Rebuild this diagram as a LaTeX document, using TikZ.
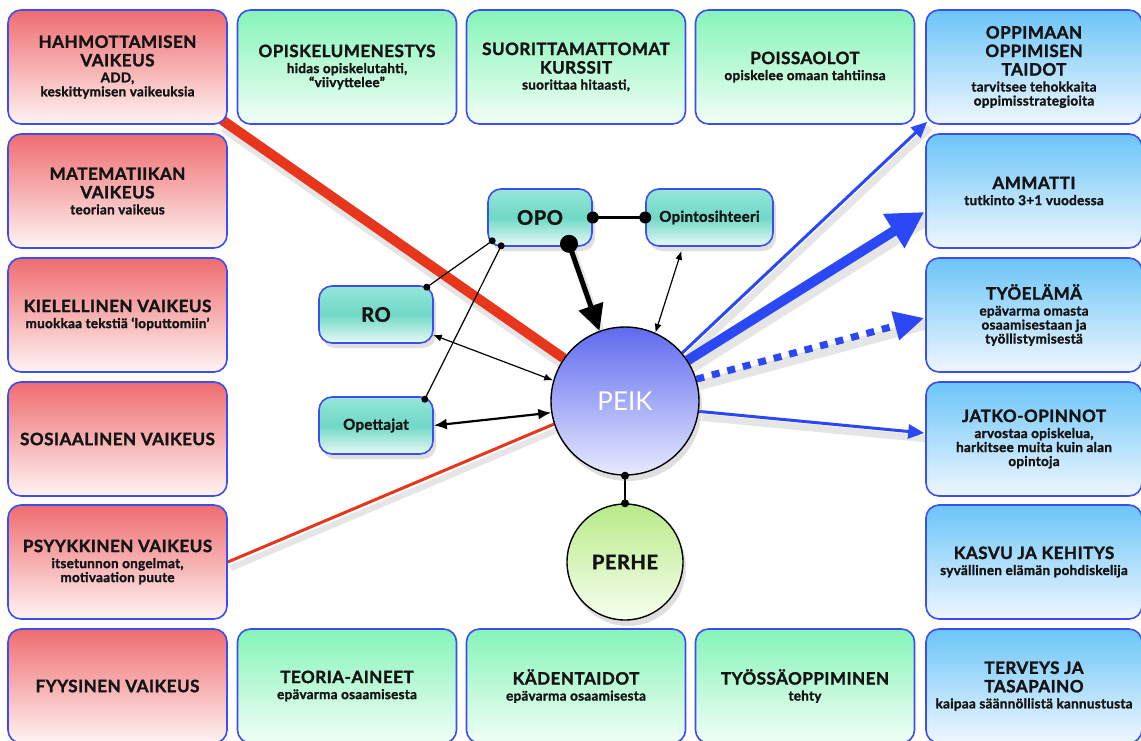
\documentclass[tikz,border=0pt]{standalone}
\usepackage{fontspec}
\setmainfont{Lato}[BoldFeatures={FakeBold=1.6}]
\usetikzlibrary{arrows.meta,shadows,calc}

\definecolor{edge}{HTML}{3D4DF2}
\definecolor{ink}{HTML}{141414}
\definecolor{redtop}{HTML}{EF6C6E}
\definecolor{redbot}{HTML}{FFF4F4}
\definecolor{grntop}{HTML}{86F4B8}
\definecolor{grnbot}{HTML}{F1FFF6}
\definecolor{blutop}{HTML}{6BC5F8}
\definecolor{blubot}{HTML}{EFF7FF}
\definecolor{tealtop}{HTML}{96E6D8}
\definecolor{tealmid}{HTML}{70D8C6}
\definecolor{tealbot}{HTML}{E6FAF6}
\definecolor{peiktop}{HTML}{5E6AEE}
\definecolor{peikbot}{HTML}{E8EAFF}
\definecolor{perhetop}{HTML}{B8EA88}
\definecolor{perhebot}{HTML}{F7FFEF}
\definecolor{linkred}{HTML}{E8361C}
\definecolor{linkblue}{HTML}{2A48F5}

% title lines and small lines inside the boxes
\newcommand\ttl{\fontsize{17}{19}\selectfont\addfontfeatures{LetterSpace=3}}
\newcommand\cellfont{\bfseries\fontsize{13.5}{14}\selectfont\addfontfeatures{LetterSpace=2}}

\pgfdeclarelayer{shade}
\pgfdeclarelayer{links}
\pgfsetlayers{shade,links,main}

\begin{document}
\begin{tikzpicture}[x=1pt,y=-1pt,
  cell/.style={rounded corners=13pt, draw=edge, line width=1.6pt,
    minimum width=219pt, minimum height=114pt, inner sep=0pt,
    align=center, text=ink, font=\cellfont},
  redcell/.style={cell, top color=redtop, bottom color=redbot},
  grncell/.style={cell, top color=grntop, bottom color=grnbot},
  blucell/.style={cell, minimum width=216pt, top color=blutop, bottom color=blubot},
  hub/.style={rounded corners=13pt, draw=edge, line width=1.6pt, inner sep=0pt,
    minimum height=57pt, text=ink, font=\bfseries,
    top color=tealtop, bottom color=tealbot, middle color=tealmid,
    drop shadow={opacity=0.25, shadow xshift=3pt, shadow yshift=-5pt}},
  ball/.style={circle, draw=black, line width=1.4pt, inner sep=0pt,
    drop shadow={opacity=0.25, shadow xshift=3pt, shadow yshift=-6pt}},
  lshade/.style={draw=black, opacity=0.10, transform canvas={shift={(3pt,-6pt)}}},
  thin arrows/.style={line width=1.2pt, {Latex[length=9pt,width=7pt]}-{Latex[length=9pt,width=7pt]}},
  blue tip/.style={-{Triangle[length=16pt,width=14pt]}}
]
\useasboundingbox (0,0) rectangle (1141,740);

% ---- outer frame of boxes ----
\node[redcell] (hah) at (117.5,67) {{\ttl HAHMOTTAMISEN}\\[4.5pt]{\ttl VAIKEUS}\\[2pt]ADD,\\keskittymisen vaikeuksia};
\node[redcell] (mat) at (117.5,191) {{\ttl MATEMATIIKAN}\\[4.5pt]{\ttl VAIKEUS}\\[2pt]teorian vaikeus};
\node[redcell] (kie) at (117.5,315) {{\ttl KIELELLINEN VAIKEUS}\\[2pt]muokkaa tekstiä ‘loputtomiin’};
\node[redcell] (sos) at (117.5,439) {{\ttl SOSIAALINEN VAIKEUS}};
\node[redcell] (psy) at (117.5,562) {{\ttl PSYYKKINEN VAIKEUS}\\[2pt]itsetunnon ongelmat,\\motivaation puute};
\node[redcell] (fyy) at (117.5,686) {{\ttl FYYSINEN VAIKEUS}};

\node[grncell] (ope) at (347,67) {{\ttl OPISKELUMENESTYS}\\[2pt]hidas opiskelutahti,\\“viivyttelee”};
\node[grncell] (suo) at (576,67) {{\ttl SUORITTAMATTOMAT}\\[4.5pt]{\ttl KURSSIT}\\[2pt]suorittaa hitaasti,};
\node[grncell] (poi) at (805,67) {{\ttl POISSAOLOT}\\[2pt]opiskelee omaan tahtiinsa};

\node[grncell] (teo) at (347,686) {{\ttl TEORIA-AINEET}\\[2pt]epävarma osaamisesta};
\node[grncell] (kad) at (576,686) {{\ttl KÄDENTAIDOT}\\[2pt]epävarma osaamisesta};
\node[grncell] (tyk) at (805,686) {{\ttl TYÖSSÄOPPIMINEN}\\[2pt]tehty};

\node[blucell] (opp) at (1034,67) {{\ttl OPPIMAAN}\\[4.5pt]{\ttl OPPIMISEN}\\[4.5pt]{\ttl TAIDOT}\\[2pt]tarvitsee tehokkaita\\oppimisstrategioita};
\node[blucell] (amm) at (1034,191) {{\ttl AMMATTI}\\[2pt]tutkinto 3+1 vuodessa};
\node[blucell] (tyo) at (1034,315) {{\ttl TYÖELÄMÄ}\\[2pt]epävarma omasta\\osaamisestaan ja\\työllistymisestä};
\node[blucell] (jat) at (1034,439) {{\ttl JATKO-OPINNOT}\\[2pt]arvostaa opiskelua,\\harkitsee muita kuin alan\\opintoja};
\node[blucell] (kas) at (1034,562) {{\ttl KASVU JA KEHITYS}\\[2pt]syvällinen elämän pohdiskelija};
\node[blucell] (ter) at (1034,686) {{\ttl TERVEYS JA}\\[4.5pt]{\ttl TASAPAINO}\\[2pt]kaipaa säännöllistä kannustusta};

% ---- centre ----
\node[hub, minimum width=104pt, font=\bfseries\fontsize{20}{22}\selectfont\addfontfeatures{LetterSpace=3}] (opo) at (540,217.5) {OPO};
\node[hub, minimum width=127pt, font=\bfseries\fontsize{15}{16}\selectfont\addfontfeatures{LetterSpace=2}] (sih) at (709.5,217.5) {Opintosihteeri};
\node[hub, minimum width=114pt, font=\bfseries\fontsize{20}{22}\selectfont\addfontfeatures{LetterSpace=3}] (ro) at (376,314.5) {RO};
\node[hub, minimum width=114pt, font=\bfseries\fontsize{15}{16}\selectfont\addfontfeatures{LetterSpace=2}] (opet) at (376,425.5) {Opettajat};

\node[ball, minimum size=148pt, top color=peiktop, bottom color=peikbot,
  text=white, font=\fontsize{26}{28}\selectfont] (peik) at (625,401) {PEIK};
\node[ball, minimum size=116pt, top color=perhetop, bottom color=perhebot,
  text=ink, font=\bfseries\fontsize{20}{22}\selectfont\addfontfeatures{LetterSpace=3}] (perhe) at (625,562) {PERHE};

% ---- connector end points ----
\coordinate (hahC) at ($(hah.south east)+(-6,-5)$);
\coordinate (oppT) at ($(opp.south west)+(2,-3)$);
\coordinate (ammT) at ($(amm.west)+(-1,21)$);
\coordinate (tyoT) at ($(tyo.west)+(-1,3)$);
\coordinate (jatT) at ($(jat.west)+(-1,-6)$);
\coordinate (opoS) at ($(opo.south)+(29,-3)$);
\coordinate (sihS) at ($(sih.south)+(-28,4)$);
\coordinate (roE)  at ($(ro.south east)+(-1,-9)$);
\coordinate (opoA) at ($(opo.south west)+(5,-6)$);
\coordinate (roN)  at ($(ro.north east)+(-7,2)$);
\coordinate (opoB) at ($(opo.south west)+(14,-1)$);
\coordinate (opetN) at ($(opet.north east)+(-9,3)$);

% ---- soft shadows under the heavy links ----
\begin{pgfonlayer}{shade}
  \draw[lshade, line width=14pt] (hahC) -- (peik);
  \draw[lshade, line width=6pt] (psy.east) -- (peik.198);
  \draw[lshade, line width=14pt] (peik.33) -- (ammT);
  \draw[lshade, line width=7pt] (peik.40) -- (oppT);
  \draw[lshade, line width=10pt] (peik.17) -- (tyoT);
  \draw[lshade, line width=7pt] (peik.-8) -- (jatT);
  \draw[lshade, line width=8pt] (opoS) -- (peik.110);
\end{pgfonlayer}

% ---- links ----
\begin{pgfonlayer}{links}
  \draw[linkred, line width=10pt] (hahC) -- (peik);
  \draw[linkred, line width=3pt] (psy.east) -- (peik.198);

  \draw[linkblue, line width=3pt, blue tip] (peik.40) -- (oppT);
  \draw[linkblue, line width=10pt, -{Triangle[length=36pt,width=38pt]}] (peik.33) -- (ammT);
  \draw[linkblue, line width=7pt, dash pattern=on 8pt off 8pt,
        -{Triangle[length=30pt,width=28pt]}] (peik.17) -- (tyoT);
  \draw[linkblue, line width=3pt, blue tip] (peik.-8) -- (jatT);

  \draw[line width=5pt, -{Triangle[length=26pt,width=25pt]}] (opoS) -- (peik.110);
  \draw[line width=3pt] (opo.east) -- (sih.west);
  \draw[thin arrows] (sihS) -- (peik.66);
  \draw[thin arrows] (roE) -- (peik.164);
  \draw[line width=2.2pt, {Latex[length=13pt,width=11pt]}-{Latex[length=13pt,width=11pt]}] (opet.east) -- (peik.189);
  \draw[line width=1.2pt] (opoA) -- (roN);
  \draw[line width=1.2pt] (opoB) -- (opetN);
  \draw[line width=1.5pt] (peik.south) -- (perhe.north);
\end{pgfonlayer}

% ---- joint dots ----
\fill (opoS) circle (9pt);
\fill (opo.east) circle (6pt);
\fill (sih.west) circle (6pt);
\fill (opoA) circle (3.5pt);
\fill (roN) circle (3.5pt);
\fill (opoB) circle (3.5pt);
\fill (opetN) circle (3.5pt);
\fill (peik.south) circle (4pt);
\fill (perhe.north) circle (4pt);
\end{tikzpicture}
\end{document}
